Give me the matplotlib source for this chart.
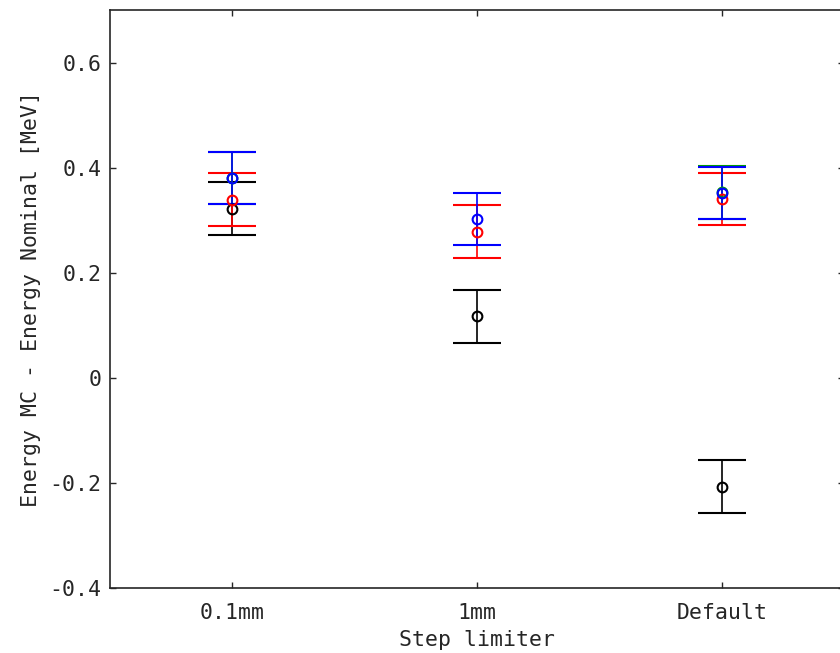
import matplotlib
matplotlib.use("Agg")
import matplotlib.pyplot as plt

# step limiter settings
labels = ['0.1mm', '1mm', 'Default']
xpos = [1, 2, 3]

# energy MC - energy nominal [MeV], one list per run
black_val = [0.322, 0.117, -0.207]
black_err = [0.050, 0.050, 0.050]
red_val = [0.339, 0.278, 0.340]
red_err = [0.050, 0.050, 0.050]
green_val = [0.380, float('nan'), 0.353]
green_err = [0.050, float('nan'), 0.050]
blue_val = [0.380, 0.302, 0.352]
blue_err = [0.050, 0.050, 0.050]

plt.rcParams['font.family'] = ['DejaVu Sans Mono']

fig = plt.figure(figsize=(8.4, 6.53), dpi=100)
ax = fig.add_axes([0.131, 0.0996, 0.874, 0.885])

series = [
    (black_val, black_err, 'black'),
    (red_val, red_err, 'red'),
    (green_val, green_err, '#00a000'),
    (blue_val, blue_err, 'blue'),
]
for val, err, col in series:
    ax.errorbar(xpos, val, yerr=err, fmt='o', color=col, mfc='none', mec=col,
                ms=7, mew=1.5, elinewidth=1.2, capsize=17, capthick=1.5)

ax.set_xlim(0.5, 3.5)
ax.set_ylim(-0.4, 0.7)
ax.set_xticks(xpos)
ax.set_xticklabels(labels)
ax.set_yticks([-0.4, -0.2, 0, 0.2, 0.4, 0.6])
ax.set_yticklabels(['-0.4', '-0.2', '0', '0.2', '0.4', '0.6'])
ax.tick_params(direction='in', length=4, width=1, labelsize=15.5, colors='#262626',
               top=True, right=True)
ax.tick_params(axis='x', pad=11)
ax.tick_params(axis='y', pad=6)
for s in ax.spines.values():
    s.set_color('#262626')
    s.set_linewidth(1.2)

ax.set_xlabel('Step limiter', fontsize=15.5, color='#262626', labelpad=5)
ax.set_ylabel('Energy MC - Energy Nominal [MeV]', fontsize=15.5, color='#262626', labelpad=6)

fig.savefig('out.png', dpi=100)
